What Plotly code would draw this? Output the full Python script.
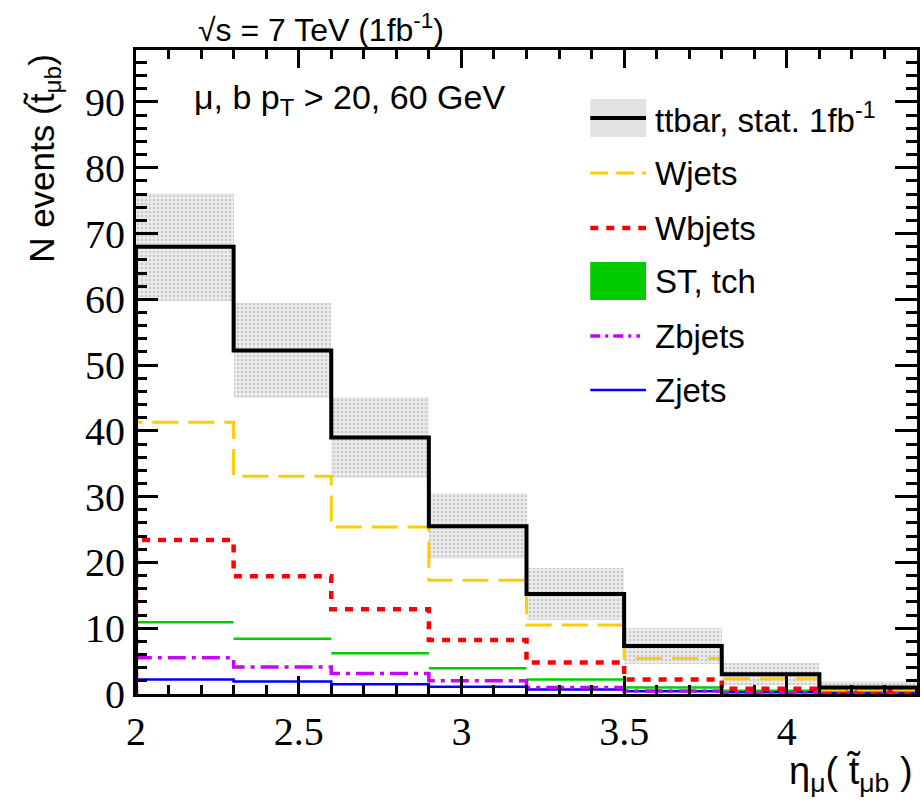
import plotly.graph_objects as go

# ---- data ----
bin_edges = [2.0, 2.3, 2.6, 2.9, 3.2, 3.5, 3.8, 4.1, 4.4]
ttbar = [68.0, 52.2, 39.0, 25.5, 15.2, 7.3, 3.0, 1.0]
ttbar_err = [8.2, 7.2, 6.2, 5.0, 3.9, 2.7, 1.7, 1.0]
wjets = [41.3, 33.1, 25.4, 17.3, 10.5, 5.4, 2.3, 0.6]
wbjets = [23.4, 17.9, 12.9, 8.2, 4.8, 2.2, 0.8, 0.5]
st_tch = [10.9, 8.4, 6.2, 3.9, 2.2, 1.0, 0.5, 0.3]
zbjets = [5.5, 4.1, 3.1, 2.0, 1.0, 0.45, 0.2, 0.15]
zjets = [2.2, 1.9, 1.5, 1.1, 0.7, 0.4, 0.25, 0.15]
x_ticks = [2, 2.5, 3, 3.5, 4]
x_tick_labels = ["2", "2.5", "3", "3.5", "4"]
y_ticks = [0, 10, 20, 30, 40, 50, 60, 70, 80, 90]

L, R, T, B = 136, 2, 50, 109
W, H = 922, 803
PW, PH = W - L - R, H - T - B


def px(xp):
    return (xp - L) / PW


def py(yp):
    return (H - B - yp) / PH


def step(vals):
    xs = [bin_edges[0]] + bin_edges[:-1] + [bin_edges[-1], bin_edges[-1]]
    ys = [0] + list(vals) + [vals[-1], 0]
    return xs, ys


centers = [(bin_edges[i] + bin_edges[i + 1]) / 2 for i in range(len(ttbar))]
widths = [bin_edges[i + 1] - bin_edges[i] for i in range(len(ttbar))]

fig = go.Figure()

# stat band
fig.add_trace(go.Bar(
    x=centers, y=[2 * e for e in ttbar_err],
    base=[v - e for v, e in zip(ttbar, ttbar_err)],
    width=widths,
    marker=dict(color="#ececec", line=dict(width=0),
                pattern=dict(shape=".", fgcolor="#a8a8a8", bgcolor="#ececec", size=4, solidity=0.35)),
    showlegend=False, hoverinfo="skip"))

# ST tch: horizontal segments only
sx, sy = [], []
for i, v in enumerate(st_tch):
    sx += [bin_edges[i], bin_edges[i + 1], None]
    sy += [v, v, None]
fig.add_trace(go.Scatter(x=sx, y=sy, mode="lines", line=dict(color="#00cc00", width=2.5),
                         showlegend=False, hoverinfo="skip"))

series = [
    (zjets, dict(color="#0000ff", width=2.5)),
    (zbjets, dict(color="#cc00ff", width=3.5, dash="18px,6px,4px,6px")),
    (wbjets, dict(color="#ff0000", width=4.5, dash="8px,8px")),
    (wjets, dict(color="#ffcc00", width=3, dash="26px,10px")),
    (ttbar, dict(color="#000000", width=4)),
]
for vals, ln in series:
    xs, ys = step(vals)
    fig.add_trace(go.Scatter(x=xs, y=ys, mode="lines", line=dict(shape="hv", **ln),
                             showlegend=False, hoverinfo="skip"))

serif = "Liberation Serif, DejaVu Serif, serif"
sans = "Liberation Sans, Arial, Helvetica, sans-serif"
tickfont = dict(family=serif, size=40, color="black")
fig.update_xaxes(range=[2.0, 4.4], tickvals=x_ticks, ticktext=x_tick_labels,
                 ticks="inside", ticklen=18, tickwidth=2.5, tickcolor="black",
                 showline=True, linewidth=3, linecolor="black", mirror="ticks",
                 showgrid=False, zeroline=False, tickfont=tickfont,
                 minor=dict(dtick=0.1, tick0=2.0, ticks="inside", ticklen=9, tickwidth=2.5,
                            tickcolor="black", showgrid=False))
fig.update_yaxes(range=[0, 97.9], tickvals=y_ticks,
                 ticks="inside", ticklen=22, tickwidth=2.5, tickcolor="black",
                 showline=True, linewidth=3, linecolor="black", mirror="ticks",
                 showgrid=False, zeroline=False, tickfont=tickfont,
                 minor=dict(dtick=2, tick0=0, ticks="inside", ticklen=11, tickwidth=2.5,
                            tickcolor="black", showgrid=False))

ann = []
ann.append(dict(x=px(322), y=py(28), xref="paper", yref="paper", showarrow=False,
                xanchor="center", yanchor="middle",
                text="√s = 7 TeV (1fb<sup>-1</sup>)", font=dict(family=sans, size=32, color="black")))
ann.append(dict(x=px(192), y=py(100), xref="paper", yref="paper", showarrow=False,
                xanchor="left", yanchor="middle",
                text="μ, b p<sub>T</sub> > 20, 60 GeV", font=dict(family=sans, size=34, color="black")))
ann.append(dict(x=px(44), y=py(52), xref="paper", yref="paper", showarrow=False, textangle=-90,
                xanchor="center", yanchor="top",
                text="N events (t\u0303<sub>μb</sub>)", font=dict(family=sans, size=35, color="black")))
ann.append(dict(x=px(918), y=py(774), xref="paper", yref="paper", showarrow=False,
                xanchor="right", yanchor="middle",
                text="η<sub>μ</sub>( t\u0303<sub>μb</sub> )", font=dict(family=sans, size=38, color="black")))

legend_items = ["ttbar, stat. 1fb<sup>-1</sup>", "Wjets", "Wbjets", "ST, tch", "Zbjets", "Zjets"]
legend_y = [118, 173, 228, 281, 336, 390]
for txt, yy in zip(legend_items, legend_y):
    ann.append(dict(x=px(655), y=py(yy), xref="paper", yref="paper", showarrow=False,
                    xanchor="left", yanchor="middle",
                    text=txt, font=dict(family=sans, size=33, color="black")))

shapes = []
x0, x1 = px(592), px(648)
# ttbar key
shapes.append(dict(type="rect", xref="paper", yref="paper", x0=x0, x1=x1, y0=py(137), y1=py(99),
                   fillcolor="#e2e2e2", line=dict(width=0)))
shapes.append(dict(type="line", xref="paper", yref="paper", x0=x0, x1=x1, y0=py(118), y1=py(118),
                   line=dict(color="black", width=4)))
shapes.append(dict(type="line", xref="paper", yref="paper", x0=x0, x1=x1, y0=py(173), y1=py(173),
                   line=dict(color="#ffcc00", width=3, dash="18px,8px")))
shapes.append(dict(type="line", xref="paper", yref="paper", x0=x0, x1=x1, y0=py(228), y1=py(228),
                   line=dict(color="#ff0000", width=4.5, dash="8px,8px")))
shapes.append(dict(type="rect", xref="paper", yref="paper", x0=x0, x1=x1, y0=py(300), y1=py(262),
                   fillcolor="#00cc00", line=dict(width=0)))
shapes.append(dict(type="line", xref="paper", yref="paper", x0=x0, x1=px(642), y0=py(336), y1=py(336),
                   line=dict(color="#cc00ff", width=3.5, dash="10px,5px,3px,5px")))
shapes.append(dict(type="line", xref="paper", yref="paper", x0=x0, x1=x1, y0=py(390), y1=py(390),
                   line=dict(color="#0000ff", width=2.5)))

fig.update_layout(width=W, height=H, margin=dict(l=L, r=R, t=T, b=B),
                  paper_bgcolor="white", plot_bgcolor="white",
                  annotations=ann, shapes=shapes, bargap=0, showlegend=False)

fig.write_html("out.html")
